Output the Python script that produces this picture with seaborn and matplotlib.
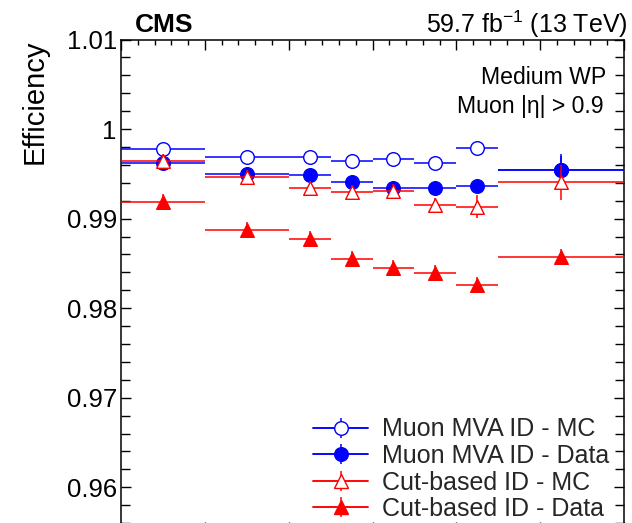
import numpy as np
import matplotlib
matplotlib.use("Agg")
import matplotlib.pyplot as plt
import seaborn as sns
from matplotlib.lines import Line2D
from matplotlib.legend_handler import HandlerTuple
from matplotlib.ticker import MultipleLocator, FuncFormatter

# ---------------- data ----------------
bin_edges = [10, 20, 30, 35, 40, 45, 50, 55, 70]

mva_mc = [0.99773, 0.99684, 0.99690, 0.99646, 0.99665, 0.99623, 0.99791, 0.99545]
mva_mc_err = [0.0008, 0.0008, 0.0008, 0.0008, 0.0008, 0.0008, 0.0008, 0.0015]

mva_data = [0.99623, 0.99501, 0.99486, 0.99411, 0.99337, 0.99344, 0.99367, 0.99542]
mva_data_err = [0.0008, 0.0008, 0.0008, 0.0008, 0.0008, 0.0008, 0.0008, 0.0018]

cut_mc = [0.99646, 0.99464, 0.99344, 0.99300, 0.99307, 0.99151, 0.99132, 0.99404]
cut_mc_err = [0.0008, 0.0008, 0.0008, 0.0008, 0.0008, 0.0008, 0.0013, 0.0020]

cut_data = [0.99181, 0.98872, 0.98771, 0.98551, 0.98444, 0.98394, 0.98254, 0.98573]
cut_data_err = [0.0009, 0.0009, 0.0009, 0.0009, 0.0009, 0.0009, 0.0009, 0.0009]

labels = ["Muon MVA ID - MC", "Muon MVA ID - Data", "Cut-based ID - MC", "Cut-based ID - Data"]
y_ticks = [0.96, 0.97, 0.98, 0.99, 1.00, 1.01]

# ---------------- style ----------------
sns.set_theme(style="ticks")
plt.rcParams["font.family"] = ["Liberation Sans", "DejaVu Sans"]
plt.rcParams["mathtext.default"] = "regular"

edges = np.array(bin_edges, dtype=float)
centers = 0.5 * (edges[1:] + edges[:-1])
half_w = 0.5 * (edges[1:] - edges[:-1])

fig = plt.figure(figsize=(6.32, 5.23), dpi=100)
W, H = 632.0, 523.0
ax = fig.add_axes([121 / W, 1 - 532 / H, 503 / W, (532 - 39.5) / H])
ax.set_facecolor("white")

series = [
    (mva_mc, mva_mc_err, "blue", "o", True),
    (mva_data, mva_data_err, "blue", "o", False),
    (cut_mc, cut_mc_err, "red", "^", True),
    (cut_data, cut_data_err, "red", "^", False),
]

handles = []
for i, (vals, errs, col, mk, hollow) in enumerate(series):
    ax.errorbar(centers, vals, xerr=half_w, yerr=errs, fmt="none",
                ecolor=col, elinewidth=1.1, capsize=0, zorder=3 + 2 * i)
    fc = "white" if hollow else col
    sns.scatterplot(x=centers, y=vals, ax=ax, marker=mk, s=96,
                    color=col, facecolor=fc, edgecolor=col, linewidth=1.0,
                    zorder=4 + 2 * i, legend=False)
    h_line = Line2D([], [], color=col, lw=1.1, marker="|", markersize=15,
                    markeredgewidth=1.1)
    h_mark = Line2D([], [], color=col, lw=1.1, marker=mk, markersize=9.8,
                    markerfacecolor=fc, markeredgecolor=col, markeredgewidth=1.0)
    handles.append((h_line, h_mark))

ax.set_xlim(10, 70)
ax.set_ylim(0.955, 1.01)
ax.set_xlabel("")
ax.set_ylabel("")
ax.xaxis.set_major_locator(MultipleLocator(10))
ax.xaxis.set_minor_locator(MultipleLocator(2))
ax.set_yticks(y_ticks)
ax.yaxis.set_minor_locator(MultipleLocator(0.002))
ax.yaxis.set_major_formatter(FuncFormatter(lambda v, p: "%g" % round(v, 4)))

ax.tick_params(which="both", direction="in", top=True, right=True,
               bottom=True, left=True, labelbottom=False, color="black",
               width=1.0)
ax.tick_params(axis="y", which="major", length=7.2, labelsize=18.5, pad=3,
               labelcolor="black")
ax.tick_params(axis="y", which="minor", length=6.5)
ax.tick_params(axis="x", which="major", length=7.2)
ax.tick_params(axis="x", which="minor", length=3.4)
for sp in ax.spines.values():
    sp.set_visible(True)
    sp.set_color("black")
    sp.set_linewidth(1.1)

# ---------------- texts ----------------
fig.text(35 / W, 1 - 40 / H, "Efficiency", rotation=90, ha="center", va="top",
         fontsize=21, color="black")
fig.text(135 / W, 1 - 32 / H, "CMS", fontsize=19, weight="bold",
         ha="left", va="baseline", color="black")
fig.text(628 / W, 1 - 33 / H, "59.7 fb$^{-1}$ (13 TeV)", fontsize=18,
         ha="right", va="baseline", color="black")
fig.text(606 / W, 1 - 84 / H, "Medium WP", fontsize=16.6, ha="right",
         va="baseline", color="black")
fig.text(604 / W, 1 - 113 / H, "Muon |η| > 0.9", fontsize=16.6, ha="right",
         va="baseline", color="black")

fig.legend(handles, labels, handler_map={tuple: HandlerTuple(ndivide=1)},
           loc="upper left", bbox_to_anchor=(313 / W, 1 - 417.5 / H),
           bbox_transform=fig.transFigure, frameon=False, borderpad=0,
           borderaxespad=0, handlelength=2.2, handletextpad=0.56,
           labelspacing=0.1, fontsize=18, numpoints=1)

fig.savefig("out.png", dpi=100)
